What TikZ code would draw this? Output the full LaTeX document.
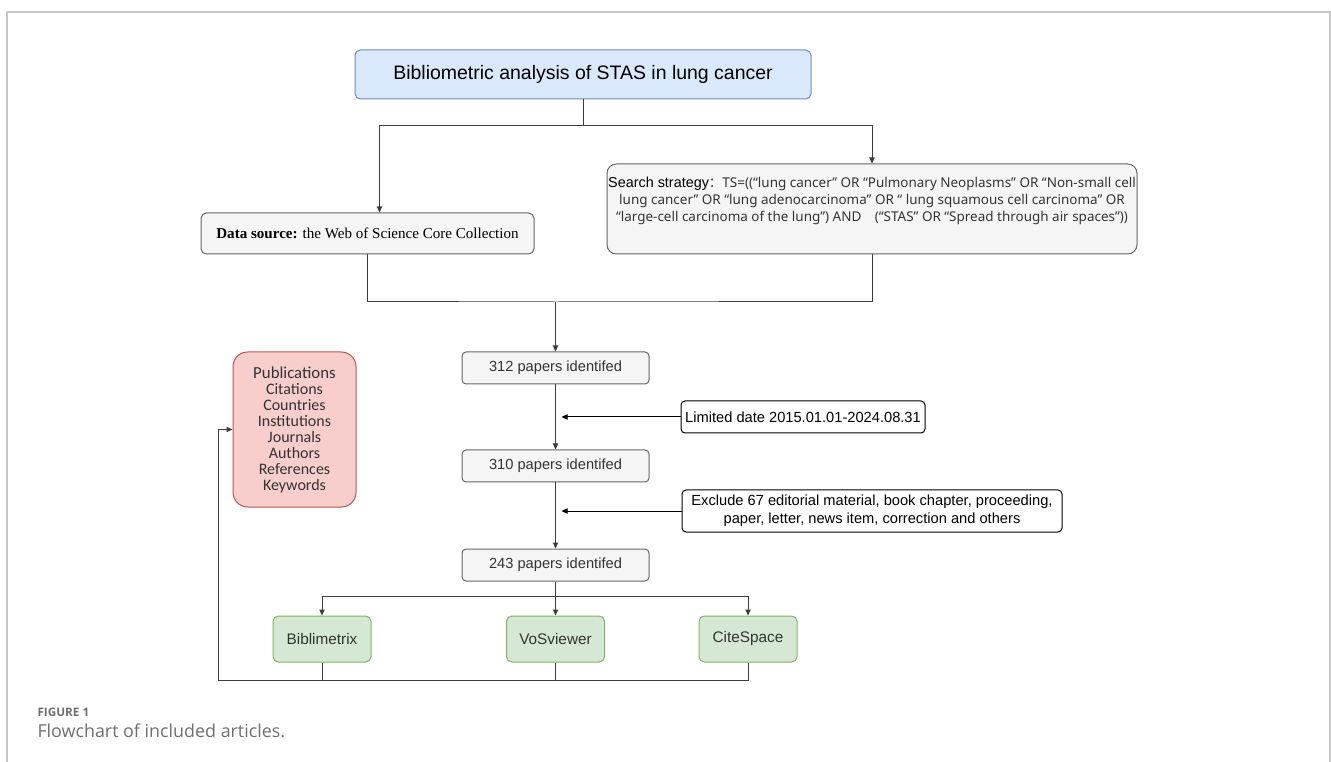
\documentclass[tikz,border=0pt]{standalone}
\usepackage{fontspec}
\setmainfont{Liberation Sans}
\newfontfamily\serifbox{Liberation Serif}
\newfontfamily\calibri{Carlito}
\newfontfamily\cjk{Noto Sans CJK SC}
\newfontfamily\lightsans{Noto Sans}
\newfontfamily\capfont{Open Sans}
\usepackage{tikz}
\usetikzlibrary{arrows.meta, positioning, calc}
\definecolor{framegray}{RGB}{200,200,200}
\definecolor{linegray}{RGB}{60,60,60}
\definecolor{titlefill}{HTML}{DAE8FC}
\definecolor{titleedge}{HTML}{6C8EBF}
\definecolor{boxfill}{HTML}{F5F5F5}
\definecolor{boxedge}{HTML}{666666}
\definecolor{textgray}{HTML}{333333}
\definecolor{greenfill}{HTML}{D5E8D4}
\definecolor{greenedge}{HTML}{82B366}
\definecolor{redfill}{HTML}{F8CECC}
\definecolor{rededge}{HTML}{B85450}
\definecolor{capgray}{HTML}{6E6E6E}

\begin{document}
\begin{tikzpicture}[x=0.75pt, y=-0.75pt, >={Triangle[length=4.5pt,width=4pt]},
      line width=0.75pt,
      conn/.style={draw=linegray},
      graybox/.style={draw=boxedge, fill=boxfill, rounded corners=3pt, inner sep=0pt,
        minimum width=187*0.75pt, minimum height=32*0.75pt,
        font=\fontsize{11pt}{13pt}\selectfont\color{textgray}},
      notebox/.style={draw=black, fill=white, rounded corners=3pt, inner sep=0pt,
        align=center, font=\fontsize{11pt}{13.5pt}\selectfont},
      toolbox/.style={draw=greenedge, fill=greenfill, rounded corners=4pt, inner sep=0pt,
        minimum width=98*0.75pt, minimum height=46*0.75pt,
        font=\fontsize{11.5pt}{13pt}\selectfont\color{textgray}}]
    \useasboundingbox (0,0) rectangle (1331,762);
    % --- frame ---
    \draw[framegray, line width=1.1pt] (7,762) -- (7,12) -- (1330,12) -- (1330,762);

    % --- title and sources ---
    \node[draw=titleedge, fill=titlefill, rounded corners=4pt,
          minimum width=456*0.75pt, minimum height=49*0.75pt,
          font=\fontsize{14.6pt}{17pt}\selectfont] (title) at (583,74.5)
          {Bibliometric analysis of STAS in lung cancer};
    \node[draw=boxedge, fill=boxfill, rounded corners=4pt,
          minimum width=333*0.75pt, minimum height=41*0.75pt,
          font=\serifbox\fontsize{11.3pt}{13pt}\selectfont] (data) at (367.5,233.5)
          {\textbf{Data source:} the Web of Science Core Collection};
    \node[draw=boxedge, fill=boxfill, rounded corners=7pt,
          minimum width=530*0.75pt, minimum height=90*0.75pt] (search) at (872,209) {};
    \node[anchor=north, align=center, inner sep=0pt,
          font=\lightsans\fontsize{10.1pt}{13pt}\selectfont\color{textgray}]
          (searchtxt) at ([yshift=-9.5pt]search.north)
          {{\rmfamily\color{black}\fontsize{10.8pt}{13pt}\selectfont Search strategy}{\cjk ：}TS=((“lung cancer” OR “Pulmonary Neoplasms” OR “Non-small cell\\
           lung cancer” OR “lung adenocarcinoma” OR “ lung squamous cell carcinoma” OR\\
           “large-cell carcinoma of the lung”) AND{\cjk 　}(“STAS” OR “Spread through air spaces”))};

    % --- screening ---
    \node[graybox] (p312) at (555.5,368) {312 papers identifed};
    \node[graybox] (p310) at (555.5,466) {310 papers identifed};
    \node[graybox] (p243) at (555.5,565) {243 papers identifed};
    \node[notebox, minimum width=244*0.75pt, minimum height=32*0.75pt] (limit) at (803,417)
          {Limited date 2015.01.01-2024.08.31};
    \node[notebox, minimum width=380*0.75pt, minimum height=42*0.75pt] (exclude) at (872,511)
          {Exclude 67 editorial material, book chapter, proceeding,\\
           paper, letter, news item, correction and others};

    % --- tools and outputs ---
    \node[toolbox] (bib) at (322,639) {Biblimetrix};
    \node[toolbox] (vos) at (555.5,639) {VoSviewer};
    \node[toolbox] (cite) at (748,639) {CiteSpace};
    \node[draw=rededge, fill=redfill, rounded corners=11pt, align=center,
          minimum width=123*0.75pt, minimum height=155*0.75pt, inner sep=0pt,
          font=\calibri\fontsize{12pt}{12pt}\selectfont\color{textgray}] (pub) at (294.5,429.5)
          {{\fontsize{12.6pt}{12pt}\selectfont Publications}\\Citations\\Countries\\Institutions\\
           Journals\\Authors\\References\\Keywords};

    % --- connectors ---
    \draw[conn, ->] (title.south) -- ++(0,26) -| ([xshift=9pt]data.north);
    \draw[conn, ->] (title.south) -- ++(0,26) -| (search.north);
    \coordinate (join) at (555.5,302);
    \draw[conn] (data.south) |- (join) -| (search.south);
    \draw[conn, ->] (join) -- (p312.north);
    \draw[conn, ->] (p312) -- (p310);
    \draw[conn, ->] (p310) -- (p243);
    \draw[->] (limit.west) -- ([xshift=4.5pt]p312.center |- limit.west);
    \draw[->] (exclude.west) -- ([xshift=4.5pt]p310.center |- exclude.west);
    \draw[conn] (p243.south) -- ++(0,15) coordinate (split);
    \draw[conn, ->] (split) -| (bib.north);
    \draw[conn, ->] (split) -| (cite.north);
    \draw[conn, ->] (split) -- (vos.north);
    \coordinate (back) at (218,680);
    \draw[conn, ->] (cite.south) |- (back) |- (pub.west);
    \draw[conn] (bib.south) -- (bib.south |- back);
    \draw[conn] (vos.south) -- (vos.south |- back);

    % --- caption ---
    \node[anchor=base west, inner sep=0pt, font=\capfont\bfseries\fontsize{8.8pt}{11pt}\selectfont\color{capgray}]
          (figlabel) at (37,716) {FIGURE 1};
    \node[anchor=base west, inner sep=0pt, font=\capfont\fontsize{13.4pt}{15pt}\selectfont\color{capgray}]
          (figcap) at (37,737) {Flowchart of included articles.};
\end{tikzpicture}
\end{document}
